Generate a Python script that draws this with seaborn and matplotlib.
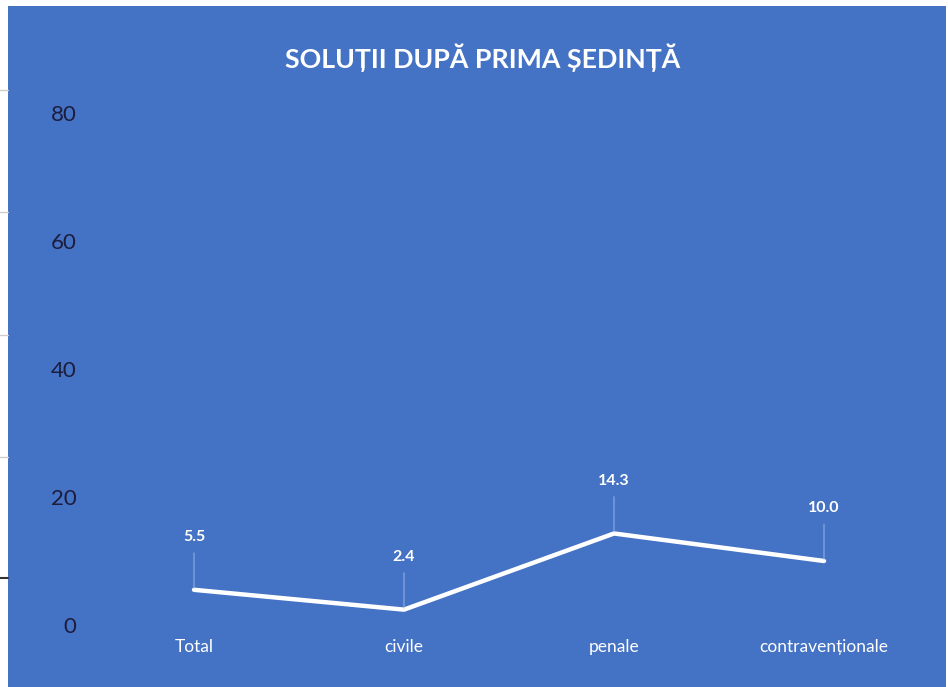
import matplotlib
matplotlib.use("Agg")
import matplotlib.pyplot as plt
import seaborn as sns
import pandas as pd
from matplotlib.patches import Rectangle
from matplotlib.lines import Line2D

# data
categories = ["Total", "civile", "penale", "contravenționale"]
values = [5.5, 2.4, 14.3, 10.0]
yticks = [0, 20, 40, 60, 80]
title = "SOLUȚII DUPĂ PRIMA ȘEDINȚĂ"

BLUE = "#4472C4"
W, H = 948, 687

sns.set_theme(style="white")
plt.rcParams['font.family'] = ['Lato', 'DejaVu Sans']

fig = plt.figure(figsize=(W / 100, H / 100), dpi=100, facecolor="white")

# blue panel and the bits of the screenshot frame on the left
fig.patches.append(Rectangle((8 / W, 0), 1 - 10 / W, 1 - 6 / H,
                             transform=fig.transFigure, facecolor=BLUE,
                             edgecolor="none", zorder=-10))
for yy in [90, 212, 335, 457]:
    fig.lines.append(Line2D([0, 8 / W], [1 - yy / H] * 2, transform=fig.transFigure,
                            color="#cccccc", lw=1))
fig.lines.append(Line2D([0, 8 / W], [1 - 578 / H] * 2, transform=fig.transFigure,
                        color="#333333", lw=1.5))

ax = fig.add_axes([89 / W, (H - 625) / H, 840 / W, 512 / H])
ax.set_facecolor("none")
ax.patch.set_visible(False)

df = pd.DataFrame({"cat": categories, "val": values})
sns.lineplot(data=df, x="cat", y="val", sort=False, color="white", lw=3.2, ax=ax)

ax.set_xlim(-0.5, len(categories) - 0.5)
ax.set_ylim(0, 80)
ax.set_yticks(yticks)
ax.set_yticklabels([str(t) for t in yticks], fontsize=16, color="#1c1c3c")
ax.set_xticks(range(len(categories)))
ax.set_xticklabels(categories, fontsize=12.5, color="white")
ax.tick_params(axis="y", length=0, pad=9)
ax.tick_params(axis="x", length=0, pad=10)
ax.set_xlabel("")
ax.set_ylabel("")
for s in ax.spines.values():
    s.set_visible(False)

for i, v in enumerate(values):
    ax.annotate(f"{v:.1f}", xy=(i, v), xytext=(0, 38), textcoords="offset points",
                ha="center", va="center", color="white", fontsize=11.5, fontweight="bold",
                arrowprops=dict(arrowstyle="-", color="#a9c0e8", lw=0.6,
                                shrinkA=4, shrinkB=1))

fig.text(483 / W, 1 - 58 / H, title, ha="center", va="center", color="white",
         fontsize=19.3, fontweight="bold")

fig.savefig("out.png", dpi=100, facecolor="white")
